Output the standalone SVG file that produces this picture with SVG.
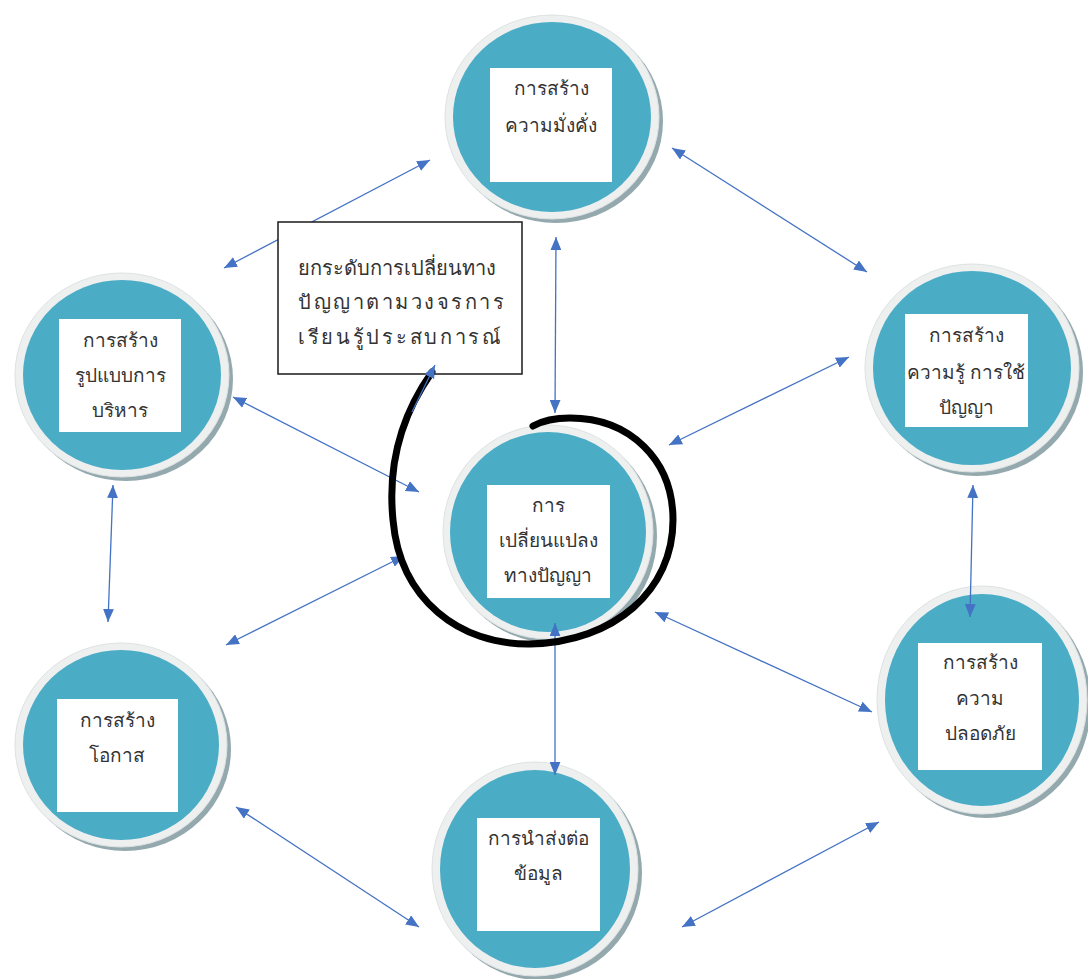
<svg xmlns="http://www.w3.org/2000/svg" width="1088" height="979" viewBox="0 0 1088 979">
<style>
.shadow{fill:#94a9ae}
.ring{fill:#eef0f0;stroke:#dde2e3;stroke-width:1}
.core{fill:#4bacc6}
.box{fill:#ffffff}
.lbl{font-family:"Noto Sans","Tahoma",sans-serif;font-size:19px;fill:#333333;text-anchor:middle}
.con{stroke:#4472c4;stroke-width:1.3;fill:none;marker-start:url(#ah);marker-end:url(#ah)}
.call{font-family:"Noto Sans","Tahoma",sans-serif;font-size:20px;fill:#333333}
</style>
<defs>
<marker id="ah" viewBox="0 0 12 10" refX="12" refY="5" markerWidth="13" markerHeight="11" markerUnits="userSpaceOnUse" orient="auto-start-reverse">
<path d="M0,0 L12,5 L0,10 z" fill="#4472c4"/>
</marker>
</defs>
<rect width="1088" height="979" fill="#ffffff"/>
<g id="n-top">
<ellipse class="shadow" cx="556" cy="121" rx="107" ry="102"/>
<ellipse class="ring" cx="552" cy="117" rx="107" ry="102"/>
<ellipse class="core" cx="552" cy="117" rx="99" ry="95"/>
<rect class="box" x="490" y="68" width="122" height="114"/>
<text class="lbl" x="551" y="95">การสร้าง</text>
<text class="lbl" x="551" y="132">ความมั่งคั่ง</text>
</g>
<g id="n-left">
<ellipse class="shadow" cx="126" cy="379" rx="107" ry="102"/>
<ellipse class="ring" cx="122" cy="375" rx="107" ry="102"/>
<ellipse class="core" cx="122" cy="375" rx="99" ry="95"/>
<rect class="box" x="59" y="319" width="122" height="113"/>
<text class="lbl" x="120" y="347">การสร้าง</text>
<text class="lbl" x="120" y="382">รูปแบบการ</text>
<text class="lbl" x="120" y="417">บริหาร</text>
</g>
<g id="n-right">
<ellipse class="shadow" cx="976" cy="372" rx="107" ry="104"/>
<ellipse class="ring" cx="972" cy="368" rx="107" ry="104"/>
<ellipse class="core" cx="972" cy="368" rx="99" ry="97"/>
<rect class="box" x="905" y="314" width="123" height="113"/>
<text class="lbl" x="966" y="342">การสร้าง</text>
<text class="lbl" x="966" y="379">ความรู้ การใช้</text>
<text class="lbl" x="966" y="414">ปัญญา</text>
</g>
<g id="n-br">
<ellipse class="shadow" cx="986" cy="704" rx="105" ry="114"/>
<ellipse class="ring" cx="982" cy="700" rx="105" ry="114"/>
<ellipse class="core" cx="982" cy="700" rx="97" ry="106"/>
<rect class="box" x="918" y="643" width="124" height="127"/>
<text class="lbl" x="980" y="669">การสร้าง</text>
<text class="lbl" x="980" y="705">ความ</text>
<text class="lbl" x="980" y="740">ปลอดภัย</text>
</g>
<g id="n-bottom">
<ellipse class="shadow" cx="539" cy="873" rx="103" ry="107"/>
<ellipse class="ring" cx="535" cy="869" rx="103" ry="107"/>
<ellipse class="core" cx="535" cy="869" rx="95" ry="99"/>
<rect class="box" x="477" y="818" width="123" height="113"/>
<text class="lbl" x="538" y="845">การนำส่งต่อ</text>
<text class="lbl" x="538" y="880">ข้อมูล</text>
</g>
<g id="n-bl">
<ellipse class="shadow" cx="125" cy="749" rx="106" ry="102"/>
<ellipse class="ring" cx="121" cy="745" rx="106" ry="102"/>
<ellipse class="core" cx="121" cy="745" rx="98" ry="95"/>
<rect class="box" x="57" y="699" width="121" height="113"/>
<text class="lbl" x="117" y="727">การสร้าง</text>
<text class="lbl" x="117" y="762">โอกาส</text>
</g>
<g id="n-center">
<ellipse class="shadow" cx="552" cy="536" rx="105" ry="107"/>
<ellipse class="ring" cx="548" cy="532" rx="105" ry="107"/>
<ellipse class="core" cx="548" cy="532" rx="98" ry="100"/>
<rect class="box" x="487" y="485" width="123" height="113"/>
<text class="lbl" x="548" y="512">การ</text>
<text class="lbl" x="548" y="547">เปลี่ยนแปลง</text>
<text class="lbl" x="548" y="582">ทางปัญญา</text>
</g>
<g id="connectors">
<line class="con" x1="430" y1="160" x2="224" y2="268"/>
<line class="con" x1="672" y1="148" x2="867" y2="272"/>
<line class="con" x1="556" y1="237" x2="555" y2="413"/>
<line class="con" x1="233" y1="397" x2="419" y2="492"/>
<line class="con" x1="849" y1="357" x2="669" y2="445"/>
<line class="con" x1="113" y1="485" x2="108" y2="622"/>
<line class="con" x1="973" y1="485" x2="970" y2="617"/>
<line class="con" x1="226" y1="645" x2="404" y2="556"/>
<line class="con" x1="655" y1="612" x2="872" y2="712"/>
<line class="con" x1="555" y1="623" x2="555" y2="775"/>
<line class="con" x1="236" y1="807" x2="419" y2="927"/>
<line class="con" x1="682" y1="927" x2="879" y2="822"/>
</g>
<g id="callout">
<rect x="278" y="222" width="244" height="152" fill="#ffffff" stroke="#1a1a1a" stroke-width="1.5"/>
<text class="call" x="298" y="275">ยกระดับการเปลี่ยนทาง</text>
<text class="call" x="298" y="309" letter-spacing="2.5">ปัญญาตามวงจรการ</text>
<text class="call" x="298" y="344" letter-spacing="2.7">เรียนรู้ประสบการณ์</text>
</g>
<g id="spiral">
<path d="M432 372 C398 420 388 470 393 520 C400 600 460 645 530 644 C615 642 673 590 673 520 C673 460 630 418 570 418 C555 418 542 421 533 426" fill="none" stroke="#000000" stroke-width="7" stroke-linecap="round"/>
<line x1="412" y1="412" x2="435" y2="365" stroke="#4472c4" stroke-width="1.3" marker-end="url(#ah)"/>
</g>
</svg>
